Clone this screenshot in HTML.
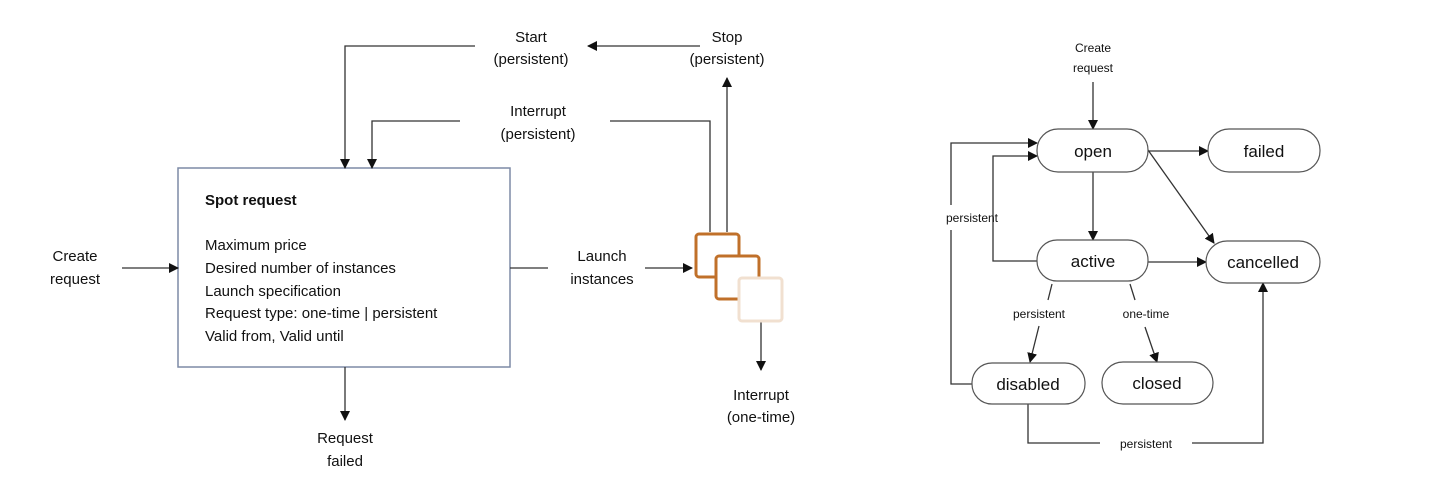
<!DOCTYPE html>
<html><head><meta charset="utf-8"><style>
html,body{margin:0;padding:0;background:#fff;}
svg{display:block;}
text{font-family:"Liberation Sans",sans-serif;fill:#111;}
</style></head><body>
<svg width="1441" height="486" viewBox="0 0 1441 486" xmlns="http://www.w3.org/2000/svg">
<defs>
<marker id="a" markerWidth="10" markerHeight="10" refX="9" refY="5" orient="auto" markerUnits="userSpaceOnUse">
<path d="M0,0 L10,5 L0,10 z" fill="#111"/></marker>
</defs>
<g stroke="#333" stroke-width="1.3" fill="none">
<!-- left diagram -->
<rect x="178" y="168" width="332" height="199" stroke="#7d8aa6" stroke-width="1.5"/>
<line x1="122" y1="268" x2="178" y2="268" marker-end="url(#a)"/>
<line x1="510" y1="268" x2="548" y2="268"/>
<line x1="645" y1="268" x2="692" y2="268" marker-end="url(#a)"/>
<line x1="345" y1="367" x2="345" y2="420" marker-end="url(#a)"/>
<polyline points="475,46 345,46 345,168" marker-end="url(#a)"/>
<line x1="700" y1="46" x2="588" y2="46" marker-end="url(#a)"/>
<polyline points="460,121 372,121 372,168" marker-end="url(#a)"/>
<polyline points="610,121 710,121 710,232"/>
<line x1="727" y1="232" x2="727" y2="78" marker-end="url(#a)"/>
<line x1="761" y1="321" x2="761" y2="370" marker-end="url(#a)"/>
</g>
<g fill="none" stroke-width="3">
<rect x="696" y="234" width="43" height="43" rx="3" stroke="#c0702a"/>
<rect x="716" y="256" width="43" height="43" rx="3" stroke="#c0702a" fill="#fff"/>
<rect x="739" y="278" width="43" height="43" rx="3" stroke="#f1e0d0" fill="#fff"/>
</g>
<g font-size="15">
<text x="205" y="205" font-weight="bold">Spot request</text>
<text x="205" y="250">Maximum price</text>
<text x="205" y="273">Desired number of instances</text>
<text x="205" y="296">Launch specification</text>
<text x="205" y="318">Request type: one-time | persistent</text>
<text x="205" y="341">Valid from, Valid until</text>
</g>
<g font-size="15" text-anchor="middle">
<text x="75" y="261">Create</text><text x="75" y="284">request</text>
<text x="602" y="261">Launch</text><text x="602" y="284">instances</text>
<text x="345" y="443">Request</text><text x="345" y="466">failed</text>
<text x="531" y="42">Start</text><text x="531" y="64">(persistent)</text>
<text x="727" y="42">Stop</text><text x="727" y="64">(persistent)</text>
<text x="538" y="116">Interrupt</text><text x="538" y="139">(persistent)</text>
<text x="761" y="400">Interrupt</text><text x="761" y="422">(one-time)</text>
</g>
<!-- right diagram -->
<g stroke="#333" stroke-width="1.3" fill="none">
<line x1="1093" y1="82" x2="1093" y2="129" marker-end="url(#a)"/>
<polyline points="972,384 951,384 951,230"/>
<polyline points="951,205 951,143 1037,143" marker-end="url(#a)"/>
<polyline points="1037,261 993,261 993,156 1037,156" marker-end="url(#a)"/>
<line x1="1093" y1="172" x2="1093" y2="240" marker-end="url(#a)"/>
<line x1="1148" y1="151" x2="1208" y2="151" marker-end="url(#a)"/>
<line x1="1148" y1="150" x2="1214" y2="243" marker-end="url(#a)"/>
<line x1="1148" y1="262" x2="1206" y2="262" marker-end="url(#a)"/>
<line x1="1052" y1="284" x2="1048" y2="300"/>
<line x1="1039" y1="326" x2="1030" y2="362" marker-end="url(#a)"/>
<line x1="1130" y1="284" x2="1135" y2="300"/>
<line x1="1145" y1="327" x2="1157" y2="362" marker-end="url(#a)"/>
<polyline points="1028,404 1028,443 1100,443"/>
<polyline points="1192,443 1263,443 1263,283" marker-end="url(#a)"/>
</g>
<g fill="#fff" stroke="#555" stroke-width="1.2">
<rect x="1037" y="129" width="111" height="43" rx="21"/>
<rect x="1208" y="129" width="112" height="43" rx="21"/>
<rect x="1037" y="240" width="111" height="41" rx="20"/>
<rect x="1206" y="241" width="114" height="42" rx="21"/>
<rect x="972" y="363" width="113" height="41" rx="20"/>
<rect x="1102" y="362" width="111" height="42" rx="21"/>
</g>
<g font-size="17" text-anchor="middle">
<text x="1093" y="157">open</text>
<text x="1264" y="157">failed</text>
<text x="1093" y="267">active</text>
<text x="1263" y="268">cancelled</text>
<text x="1028" y="390">disabled</text>
<text x="1157" y="389">closed</text>
</g>
<g font-size="12" text-anchor="middle">
<text x="1093" y="52">Create</text><text x="1093" y="72">request</text>
<text x="972" y="222">persistent</text>
<text x="1039" y="318">persistent</text>
<text x="1146" y="318">one-time</text>
<text x="1146" y="448">persistent</text>
</g>
</svg>
</body></html>
